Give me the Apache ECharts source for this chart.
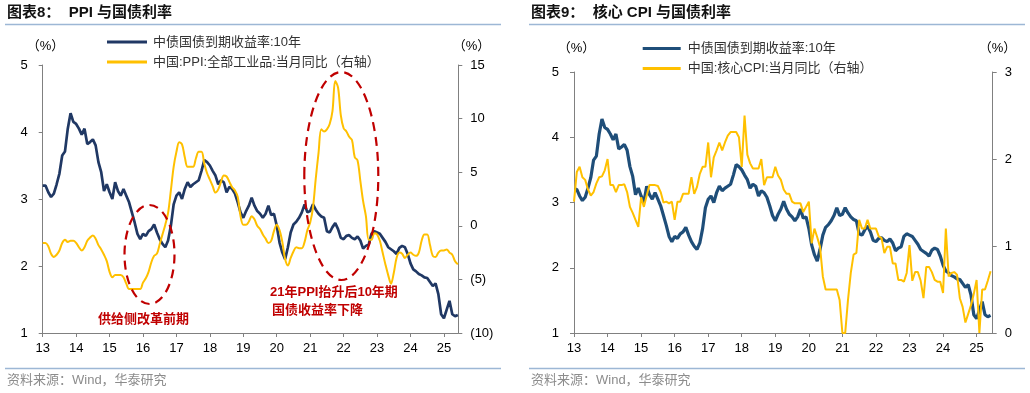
<!DOCTYPE html>
<html><head><meta charset="utf-8">
<script src="https://cdn.jsdelivr.net/npm/echarts@6/dist/echarts.min.js"></script>
<style>html,body{margin:0;padding:0;background:#fff}#c{width:1030px;height:393px}</style>
</head><body><div id="c"></div>
<script>
// ---- data (monthly, starting Jan 2013) ----
const startYear = 2013;
const yearLabels = ['13','14','15','16','17','18','19','20','21','22','23','24','25'];
// 中债国债到期收益率:10年 (%)
const yield10y = [
  3.20,3.20,3.10,3.03,3.08,3.22,3.38,3.65,3.71,4.05,4.28,4.15,
  4.12,4.05,3.96,4.05,3.82,3.85,3.89,3.80,3.55,3.40,3.12,3.22,
  3.10,3.00,3.25,3.12,3.05,3.15,3.05,2.95,2.80,2.65,2.48,2.40,
  2.48,2.45,2.52,2.55,2.62,2.50,2.40,2.33,2.28,2.38,2.60,2.92,
  3.05,3.10,3.00,3.15,3.25,3.18,3.22,3.25,3.28,3.42,3.58,3.55,
  3.50,3.42,3.35,3.22,3.28,3.25,3.10,3.18,3.15,3.08,2.95,2.80,
  2.72,2.82,2.90,3.02,2.90,2.82,2.78,2.72,2.78,2.90,2.76,2.78,
  2.60,2.35,2.20,2.10,2.28,2.50,2.62,2.66,2.72,2.80,2.92,2.80,
  2.82,2.92,2.84,2.78,2.74,2.72,2.52,2.50,2.58,2.64,2.55,2.42,
  2.40,2.45,2.46,2.42,2.40,2.44,2.38,2.26,2.30,2.32,2.48,2.52,
  2.50,2.48,2.42,2.36,2.28,2.25,2.22,2.18,2.27,2.30,2.28,2.18,
  2.04,1.95,1.92,1.88,1.86,1.83,1.82,1.76,1.70,1.74,1.58,1.28,
  1.22,1.35,1.48,1.28,1.25,1.27
];
// 中国:PPI:全部工业品:当月同比 (%)
const ppiYoY = [
  -1.6,-1.6,-1.9,-2.6,-2.9,-2.7,-2.3,-1.6,-1.3,-1.5,-1.4,-1.4,
  -1.6,-2.0,-2.3,-2.0,-1.4,-1.1,-0.9,-1.2,-1.8,-2.2,-2.7,-3.3,
  -4.3,-4.8,-4.6,-4.6,-4.6,-4.8,-5.4,-5.9,-5.9,-5.9,-5.9,-5.9,
  -5.3,-4.9,-4.3,-3.4,-2.8,-2.6,-1.7,-0.8,0.1,1.2,3.3,5.5,
  6.9,7.8,7.6,6.4,5.5,5.5,5.5,6.3,6.9,6.9,5.8,4.9,
  4.3,3.7,3.1,3.4,4.1,4.7,4.6,4.1,3.6,3.3,2.7,0.9,
  0.1,0.1,0.4,0.9,0.6,0.0,-0.3,-0.8,-1.2,-1.6,-1.4,-0.5,
  0.1,-0.4,-1.5,-3.1,-3.7,-3.0,-2.4,-2.0,-2.1,-2.1,-1.5,-0.4,
  0.3,1.7,4.4,6.8,9.0,8.8,9.0,9.5,10.7,13.5,12.9,10.3,
  9.1,8.8,8.3,8.0,6.4,6.1,4.2,2.3,0.9,-1.3,-1.3,-0.7,
  -0.8,-1.4,-2.5,-3.6,-4.6,-5.4,-4.4,-3.0,-2.5,-2.6,-3.0,-2.7,
  -2.5,-2.7,-2.8,-2.5,-1.4,-0.8,-0.8,-1.8,-2.8,-2.9,-2.5,-2.3,
  -2.3,-2.2,-2.5,-2.7,-3.3,-3.6
];
// 中国:核心CPI:当月同比 (%)
const coreCpiYoY = [
  1.51,1.85,1.91,1.79,1.76,1.65,1.58,1.62,1.72,1.79,1.80,1.87,
  2.00,1.70,1.70,1.62,1.70,1.70,1.71,1.62,1.45,1.38,1.30,1.22,
  1.56,1.45,1.58,1.70,1.70,1.70,1.69,1.62,1.50,1.51,1.49,1.51,
  1.30,1.51,1.51,1.60,1.60,1.60,1.79,1.60,1.68,1.83,1.91,1.91,
  2.19,1.79,2.02,2.10,2.19,2.10,2.19,2.27,2.31,2.31,2.31,2.25,
  1.91,2.50,2.05,1.95,1.89,1.89,1.89,2.00,1.70,1.79,1.79,1.79,
  1.91,1.81,1.76,1.65,1.60,1.60,1.51,1.49,1.49,1.49,1.39,1.45,
  1.51,1.03,1.20,1.10,0.99,0.65,0.50,0.50,0.50,0.50,0.50,0.38,
  0.00,0.00,0.38,0.69,0.90,0.92,1.30,1.20,1.20,1.30,1.20,1.20,
  1.20,1.11,1.09,0.92,0.99,0.99,0.80,0.80,0.61,0.61,0.59,0.69,
  1.01,0.60,0.70,0.70,0.60,0.40,0.76,0.76,0.70,0.61,0.59,0.59,
  0.46,1.20,0.65,0.69,0.70,0.67,0.40,0.30,0.12,0.22,0.32,0.45,
  0.61,0.00,0.50,0.50,0.60,0.71
];

// ---- build ----
const toPairs = arr => arr.map((v, i) => [startYear + i / 12, v]);
const FONT = "'Liberation Sans','Noto Sans CJK SC',sans-serif";
const AXIS_COLOR = '#808080';
const RED = '#C00000';
const name1 = '中债国债到期收益率:10年';
const name2 = '中国:PPI:全部工业品:当月同比（右轴）';
const name3 = '中国:核心CPI:当月同比（右轴）';

function xAxisCfg(gridIndex, max) {
  return {
    type: 'value', gridIndex, min: startYear, max, interval: 1,
    axisLine: {onZero: false, lineStyle: {color: AXIS_COLOR, width: 1}},
    axisTick: {length: 4, lineStyle: {color: AXIS_COLOR}},
    splitLine: {show: false},
    axisLabel: {
      margin: 9, fontSize: 13, color: '#000', showMaxLabel: false,
      formatter: v => {
        const r = Math.round(v);
        if (Math.abs(v - r) > 1e-6) return '';
        return yearLabels[r - startYear] || '';
      }
    }
  };
}
function yAxisCfg(gridIndex, min, max, interval, position, fmt) {
  return {
    type: 'value', gridIndex, min, max, interval, position,
    axisLine: {show: true, onZero: false, lineStyle: {color: AXIS_COLOR, width: 1}},
    axisTick: {show: true, length: 4, lineStyle: {color: AXIS_COLOR}},
    splitLine: {show: false},
    axisLabel: {margin: position === 'left' ? 15 : 12, fontSize: 13, color: '#000', formatter: fmt}
  };
}

const chart = echarts.init(document.getElementById('c'), null, {renderer: 'canvas'});
chart.setOption({
  animation: false,
  backgroundColor: '#fff',
  textStyle: {fontFamily: FONT},
  grid: [
    {left: 42.7, top: 65, width: 415.6, height: 268},
    {left: 574, top: 72, width: 418.7, height: 261}
  ],
  xAxis: [xAxisCfg(0, 2025.43), xAxisCfg(1, 2025.48)],
  yAxis: [
    yAxisCfg(0, 1, 5, 1, 'left', v => String(v)),
    yAxisCfg(0, -10, 15, 5, 'right', v => v < 0 ? '(' + (-v) + ')' : String(v)),
    yAxisCfg(1, 1, 5, 1, 'left', v => String(v)),
    yAxisCfg(1, 0, 3, 1, 'right', v => String(v))
  ],
  legend: [
    {
      orient: 'vertical', left: 107, top: 34, padding: 0, itemGap: 4,
      icon: 'rect', itemWidth: 40, itemHeight: 3,
      textStyle: {fontSize: 13, color: '#333', lineHeight: 16, padding: [0, 0, 0, 1]},
      data: [{name: name1, itemStyle: {color: '#203864'}}, {name: name2, itemStyle: {color: '#FFC000'}}],
      selectedMode: false
    },
    {
      orient: 'vertical', left: 642.7, top: 40.5, padding: 0, itemGap: 4,
      icon: 'rect', itemWidth: 38, itemHeight: 3,
      textStyle: {fontSize: 13, color: '#333', lineHeight: 16, padding: [0, 0, 0, 2]},
      data: [{name: name1, itemStyle: {color: '#1F4E79'}}, {name: name3, itemStyle: {color: '#FFC000'}}],
      selectedMode: false
    }
  ],
  series: [
    {name: name1, type: 'line', xAxisIndex: 0, yAxisIndex: 0, data: toPairs(yield10y),
     showSymbol: false, lineStyle: {color: '#203864', width: 2.7}, itemStyle: {color: '#203864'}},
    {name: name2, type: 'line', xAxisIndex: 0, yAxisIndex: 1, data: toPairs(ppiYoY), smooth: 0.35,
     showSymbol: false, lineStyle: {color: '#FFC000', width: 2}, itemStyle: {color: '#FFC000'}},
    {name: name1, type: 'line', xAxisIndex: 1, yAxisIndex: 2, data: toPairs(yield10y),
     showSymbol: false, lineStyle: {color: '#1F4E79', width: 3.2}, itemStyle: {color: '#1F4E79'}},
    {name: name3, type: 'line', xAxisIndex: 1, yAxisIndex: 3, data: toPairs(coreCpiYoY),
     showSymbol: false, lineStyle: {color: '#FFC000', width: 2}, itemStyle: {color: '#FFC000'}}
  ],
  graphic: [
    // titles
    {type: 'text', left: 7, top: 5, style: {text: '图表8：  PPI 与国债利率', font: "bold 15px " + FONT, fill: '#111'}},
    {type: 'text', left: 531, top: 5, style: {text: '图表9：  核心 CPI 与国债利率', font: "bold 15px " + FONT, fill: '#111'}},
    {type: 'line', shape: {x1: 5, y1: 24.5, x2: 501, y2: 24.5}, style: {stroke: '#9DB7D5', lineWidth: 1.5}},
    {type: 'line', shape: {x1: 529, y1: 24.5, x2: 1025, y2: 24.5}, style: {stroke: '#9DB7D5', lineWidth: 1.5}},
    {type: 'line', shape: {x1: 5, y1: 368.5, x2: 501, y2: 368.5}, style: {stroke: '#9DB7D5', lineWidth: 1.5}},
    {type: 'line', shape: {x1: 529, y1: 368.5, x2: 1025, y2: 368.5}, style: {stroke: '#9DB7D5', lineWidth: 1.5}},
    // source
    {type: 'text', left: 7, top: 374, style: {text: '资料来源：Wind，华泰研究', font: "13px " + FONT, fill: '#8c8c8c'}},
    {type: 'text', left: 531, top: 374, style: {text: '资料来源：Wind，华泰研究', font: "13px " + FONT, fill: '#8c8c8c'}},
    // unit labels
    {type: 'text', x: 45.5, y: 46, style: {text: '（%）', font: "13px " + FONT, fill: '#000', align: 'center', verticalAlign: 'middle'}},
    {type: 'text', x: 471.5, y: 46, style: {text: '（%）', font: "13px " + FONT, fill: '#000', align: 'center', verticalAlign: 'middle'}},
    {type: 'text', x: 576.5, y: 48, style: {text: '（%）', font: "13px " + FONT, fill: '#000', align: 'center', verticalAlign: 'middle'}},
    {type: 'text', x: 997.5, y: 48, style: {text: '（%）', font: "13px " + FONT, fill: '#000', align: 'center', verticalAlign: 'middle'}},
    // annotations
    {type: 'ellipse', shape: {cx: 149.5, cy: 254.5, rx: 25, ry: 49.5}, z: 10,
     style: {fill: null, stroke: RED, lineWidth: 2.2, lineDash: [9, 6]}},
    {type: 'ellipse', shape: {cx: 341.3, cy: 176, rx: 37, ry: 104}, z: 10,
     style: {fill: null, stroke: RED, lineWidth: 2.2, lineDash: [9, 6]}},
    {type: 'text', x: 143.5, y: 319, z: 10, style: {text: '供给侧改革前期', font: "bold 13px " + FONT, fill: RED, align: 'center', verticalAlign: 'middle'}},
    {type: 'text', x: 270, y: 292, z: 10, style: {text: '21年PPI抬升后10年期', font: "bold 13px " + FONT, fill: RED, align: 'left', verticalAlign: 'middle'}},
    {type: 'text', x: 272, y: 310, z: 10, style: {text: '国债收益率下降', font: "bold 13px " + FONT, fill: RED, align: 'left', verticalAlign: 'middle'}}
  ]
});
</script>
</body></html>
